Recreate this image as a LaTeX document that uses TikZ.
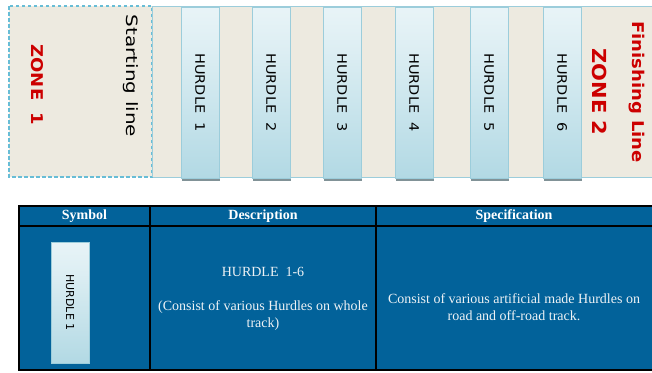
\documentclass[tikz,border=0pt]{standalone}
\usepackage{fontspec}
\setmainfont{Liberation Serif}
\newfontfamily\dvs{DejaVu Sans}
\usetikzlibrary{shadows}
\definecolor{beige}{HTML}{EDEAE0}
\definecolor{hblue}{HTML}{B2D9E4}
\definecolor{hedge}{HTML}{9CCDDB}
\definecolor{dashblue}{HTML}{68BDD6}
\definecolor{tblue}{HTML}{02629A}
\definecolor{zred}{HTML}{CC0000}
\definecolor{ttext}{HTML}{EEF2F5}
\pgfdeclareverticalshading{hshade}{100bp}{color(0bp)=(hblue); color(25bp)=(hblue); color(62bp)=(hblue!45); color(100bp)=(white)}
\begin{document}
\begin{tikzpicture}[x=1pt,y=-1pt,
  hurdle/.style={draw=hedge, line width=0.8pt, shading=hshade,
    minimum width=38pt, minimum height=171pt, inner sep=0pt,
    drop shadow={shadow xshift=1pt, shadow yshift=-2.5pt, fill=black!45!hblue, opacity=0.8},
    font=\dvs\fontsize{14.5}{16}\selectfont},
  zone/.style={text=zred, font=\dvs\bfseries\fontsize{18}{20}\selectfont, inner sep=0pt},
  hdr/.style={text=white, font=\bfseries\fontsize{14}{17}\selectfont, inner sep=0pt},
  cell/.style={text=ttext, font=\fontsize{14}{17}\selectfont, align=center, inner sep=0pt}
]
\useasboundingbox (0,0) rectangle (652,372);
% track
\draw[draw=hedge, line width=0.9pt, fill=beige] (152,6) rectangle (670,177);
\draw[draw=dashblue, line width=1.2pt, dash pattern=on 3.5pt off 2.5pt, fill=beige] (9,6) rectangle (152,177);
\draw[draw=hedge, line width=0.9pt] (152,6) -- (152,177);
% zone texts
\node[zone] (z1) at (37,85) {\rotatebox{-90}{\scalebox{1}[0.9]{ZONE\ \ 1}}};
\node[inner sep=0pt, font=\dvs\fontsize{20}{22}\selectfont] (start) at (131,76) {\rotatebox{-90}{\scalebox{1}[0.78]{Starting line}}};
% hurdles
\foreach \x/\n in {200/1,271/2,342/3,414/4,489/5,562/6}{
  \node[hurdle] (h\n) at (\x,92.5) {\rotatebox{-90}{\scalebox{1}[0.9]{HURDLE\ \ \n}}};
}
\node[zone, font=\dvs\bfseries\fontsize{21}{23}\selectfont] (z2) at (600,92) {\rotatebox{-90}{\scalebox{1}[0.92]{ZONE 2}}};
\node[zone] (fin) at (637,92) {\rotatebox{-90}{\scalebox{1}[0.9]{Finishing Line}}};
% table
\fill[tblue] (19,206) rectangle (670,370);
\draw[black, line width=1.3pt] (19,206) rectangle (670,370)
  (19,226) -- (670,226) (150,206) -- (150,370) (376,206) -- (376,370);
\node[hdr] (hsym) at (84.5,216) {Symbol};
\node[hdr] (hdesc) at (263,216) {Description};
\node[hdr] (hspec) at (514,216) {Specification};
\node[draw=hedge, line width=0.8pt, shading=hshade,
    minimum width=38pt, minimum height=121pt, inner sep=0pt,
    font=\dvs\fontsize{11}{13}\selectfont] (sym) at (70,302.5) {\rotatebox{-90}{HURDLE 1}};
\node[cell] (d1) at (263,272) {HURDLE\ \ 1-6};
\node[cell] (d2) at (263,315.5) {(Consist of various Hurdles on whole\\track)};
\node[cell] (s1) at (514,307.5) {Consist of various artificial made Hurdles on\\road and off-road track.};
\end{tikzpicture}
\end{document}
